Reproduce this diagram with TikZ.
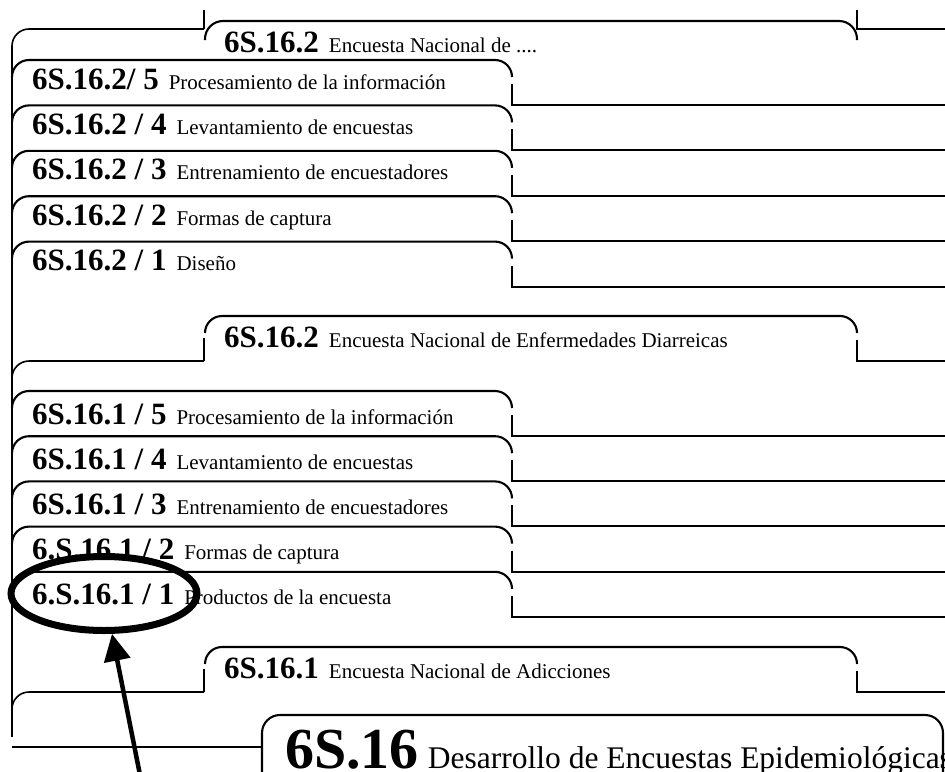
\documentclass[tikz,border=0pt]{standalone}
\usepackage{fontspec}
\setmainfont{Liberation Serif}
\usetikzlibrary{arrows.meta,shapes.geometric}
\tikzset{
  tabline/.style={line width=2.1pt},
  frameline/.style={line width=1.6pt},
  lbl/.style={anchor=base west, inner sep=0pt},
}
% bold code followed by a plain description
\newcommand{\tablabel}[2]{{\fontsize{31}{31}\selectfont\bfseries #1}\hspace{10pt}{\fontsize{21}{21}\selectfont #2}}
\begin{document}
\begin{tikzpicture}[x=1pt,y=-1pt]
\useasboundingbox (0,0) rectangle (945,771);
\clip (0,0) rectangle (945,771);
% long left frame line
\draw[frameline] (12,46) -- (12,737);
% top tab, cut by the page edge
\draw[frameline, rounded corners=17] (12,46) |- (204,29);
\draw[frameline] (204,29) -- (204,10);
\draw[tabline, rounded corners=18] (205,40) |- (857,21) -- (857,40);
\draw[frameline] (857,10) -- (857,29) -- (945,29);
% item tabs: top line, rounded right corner, broken side, line to the right
\foreach \t in {60,105.4,150.8,196.2,241.6,391,436.2,481.4,526.6,571.8} {
  \draw[tabline, rounded corners=17] (12,\t+17) |- (512,\t) -- (512,\t+17);
  \draw[tabline] (512,\t+24) -- (512,\t+45) -- (945,\t+45);
}
% group tabs 6S.16.2 and 6S.16.1
\foreach \t in {316,647} {
  \draw[frameline, rounded corners=17] (12,\t+62) |- (204,\t+45);
  \draw[frameline] (204,\t+45) -- (204,\t+22);
  \draw[tabline, rounded corners=17] (205,\t+17) |- (857,\t) -- (857,\t+17);
  \draw[tabline] (857,\t+24) -- (857,\t+45) -- (945,\t+45);
}
% bottom tab 6S.16
\draw[frameline] (12,747) -- (262,747);
\draw[tabline, rounded corners=18] (262,775) |- (943,715) -- (943,775);
% labels
\node[lbl] (gtop) at (224,52) {\tablabel{6S.16.2}{Encuesta Nacional de ....}};
\node[lbl] (a5) at (32,89) {\tablabel{6S.16.2/ 5}{Procesamiento de la información}};
\node[lbl] (a4) at (32,134.4) {\tablabel{6S.16.2 / 4}{Levantamiento de encuestas}};
\node[lbl] (a3) at (32,179.8) {\tablabel{6S.16.2 / 3}{Entrenamiento de encuestadores}};
\node[lbl] (a2) at (32,225.2) {\tablabel{6S.16.2 / 2}{Formas de captura}};
\node[lbl] (a1) at (32,270.6) {\tablabel{6S.16.2 / 1}{Diseño}};
\node[lbl] (g2) at (224,347) {\tablabel{6S.16.2}{Encuesta Nacional de Enfermedades Diarreicas}};
\node[lbl] (b5) at (32,424) {\tablabel{6S.16.1 / 5}{Procesamiento de la información}};
\node[lbl] (b4) at (32,469.2) {\tablabel{6S.16.1 / 4}{Levantamiento de encuestas}};
\node[lbl] (b3) at (32,514.4) {\tablabel{6S.16.1 / 3}{Entrenamiento de encuestadores}};
\node[lbl] (b2) at (32,559.6) {\tablabel{6.S.16.1 / 2}{Formas de captura}};
\node[lbl] (b1) at (32,604.8) {\tablabel{6.S.16.1 / 1}{Productos de la encuesta}};
\node[lbl] (g1) at (224,678) {\tablabel{6S.16.1}{Encuesta Nacional de Adicciones}};
\node[lbl] (g0) at (285,768) {{\fontsize{58}{58}\selectfont\bfseries 6S.16}\hspace{9pt}{\fontsize{31.5}{31.5}\selectfont Desarrollo de Encuestas Epidemiológicas}};
% marker ring and arrow
\node[draw, ellipse, line width=7pt, minimum width=186pt, minimum height=74pt, inner sep=0pt] (mark) at (104,593.5) {};
\coordinate (tail) at (141,780);
\draw[line width=4.5pt, -{Triangle[length=27pt,width=26pt]}] (tail) -- (mark);
\end{tikzpicture}
\end{document}
